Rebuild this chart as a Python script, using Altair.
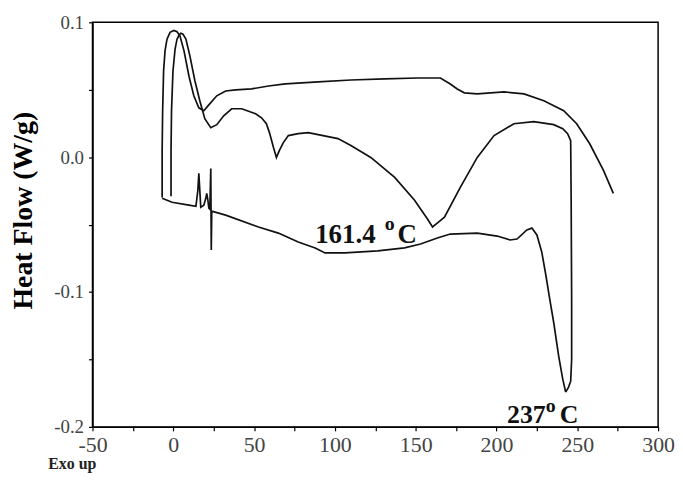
import altair as alt
import pandas as pd

# ---- data (temperature in °C, heat flow in W/g) ----
# upper trace
c1_t = [-6.9, -6.9, -6.6, -6.0, -5.1, -3.9, -2.0, 0.4, 2.3, 4.1,
        6.6, 9.7, 12.7, 15.8, 18.9, 22.0, 26.9, 32.4, 38.6, 48.4,
        58.9, 69.3, 89.6, 109.9, 130.8, 151.1, 165.3, 171.4, 175.7, 180.1,
        188.1, 204.7, 217.0, 229.3, 241.6, 249.6, 257.6, 266.2, 272.3]
c1_v = [-0.030, 0.005, 0.034, 0.064, 0.079, 0.0875, 0.0926, 0.094, 0.093, 0.090,
        0.079, 0.060, 0.0455, 0.0366, 0.0344, 0.0388, 0.0455, 0.0491, 0.0499, 0.0506,
        0.0528, 0.0543, 0.0558, 0.0572, 0.0580, 0.0587, 0.0587, 0.0543, 0.0506, 0.0477,
        0.0469, 0.0484, 0.0469, 0.0418, 0.0344, 0.0248, 0.0101, -0.0098, -0.0268]

# middle trace
c2_t = [-1.4, -1.4, -1.1, -0.2, 1.1, 2.3, 3.5, 4.7, 6.0, 7.8,
        10.3, 13.4, 16.4, 19.5, 23.2, 26.9, 31.2, 36.1, 42.3, 50.9,
        54.6, 57.6, 59.5, 62.0, 63.8, 65.6, 68.1, 71.2, 77.3, 83.5,
        89.6, 101.9, 109.9, 122.2, 137.0, 149.3, 157.3, 160.4, 164.1, 167.8,
        177.6, 188.1, 198.5, 210.8, 223.1, 235.4, 241.0, 244.0, 245.9, 246.2,
        246.5, 246.5, 245.9, 244.6, 242.8]
c2_v = [-0.029, 0.0049, 0.0344, 0.0639, 0.0801, 0.0875, 0.0904, 0.0919, 0.0912, 0.0875,
        0.0749, 0.0565, 0.0418, 0.0285, 0.0219, 0.0241, 0.0307, 0.0359, 0.0359, 0.0322,
        0.0292, 0.0248, 0.0182, 0.0071, -0.0002, 0.0049, 0.0108, 0.0160, 0.0174, 0.0182,
        0.0167, 0.0138, 0.0086, -0.0002, -0.0150, -0.0319, -0.0459, -0.0518, -0.0482, -0.0445,
        -0.0224, -0.0002, 0.0160, 0.0248, 0.0263, 0.0241, 0.0211, 0.0174, 0.0123, -0.0319,
        -0.1056, -0.1499, -0.1661, -0.1705, -0.1742]

# lower trace
c3_t = [-6.9, -0.8, 9.7, 14.0, 15.2, 15.8, 16.4, 17.0, 18.9, 20.1,
        20.7, 21.4, 22.0, 22.6, 23.2, 23.5, 23.8, 32.4, 52.7, 65.0,
        77.3, 87.8, 93.9, 106.2, 126.5, 143.1, 153.0, 163.4, 171.4, 188.1,
        200.4, 208.4, 212.7, 218.8, 221.9, 225.0, 228.0, 230.5, 233.0, 235.4,
        238.5, 241.0, 242.8]
c3_v = [-0.0305, -0.0334, -0.0356, -0.0364, -0.0246, -0.0120, -0.0246, -0.0371, -0.0356, -0.0305,
        -0.0268, -0.0319, -0.0378, -0.0386, -0.0084, -0.0688, -0.0400, -0.0430, -0.0518, -0.0563,
        -0.0629, -0.0673, -0.0710, -0.0710, -0.0695, -0.0673, -0.0644, -0.0599, -0.0570, -0.0563,
        -0.0585, -0.0614, -0.0607, -0.0540, -0.0526, -0.0577, -0.0703, -0.0872, -0.1056, -0.1226,
        -0.1477, -0.1646, -0.1742]

# annotation pieces: text, temperature, heat flow, font size
note_text = ["161.4", "o", "C", "237", "o", "C"]
note_t = [87.8, 130.8, 138.8, 206.5, 230.5, 239.1]
note_v = [-0.0636, -0.054, -0.0636, -0.197, -0.1889, -0.197]
note_size = [27, 20, 27, 26, 20, 26]

x_ticks = [-50, -25, 0, 25, 50, 75, 100, 125, 150, 175, 200, 225, 250, 275, 300]
y_ticks = [-0.2, -0.15, -0.1, -0.05, 0.0, 0.05, 0.1]

rows = []
for name, ts, vs in (("c1", c1_t, c1_v), ("c2", c2_t, c2_v), ("c3", c3_t, c3_v)):
    for i, (t, v) in enumerate(zip(ts, vs)):
        rows.append({"curve": name, "i": i, "T": t, "V": v})
df = pd.DataFrame(rows)
notes_df = pd.DataFrame({"text": note_text, "T": note_t, "V": note_v, "size": note_size})

serif = "Liberation Serif"

x_enc = alt.X(
    "T:Q",
    scale=alt.Scale(domain=[-50, 300], nice=False, zero=False),
    axis=alt.Axis(
        values=x_ticks,
        labelExpr="datum.value % 50 == 0 ? toString(datum.value) : ''",
        labelOverlap=False, labelFlush=False,
        labelFont=serif, labelFontSize=22, labelColor="#444", labelPadding=4,
        tickSize=4, tickColor="black", tickWidth=1.2,
        domainColor="black", domainWidth=1.5,
        title="Exo up", titleFont=serif, titleFontSize=16, titleFontWeight="bold",
        titleColor="#222", titleX=-45, titleY=37, titleAlign="left",
        titleBaseline="middle", titleAngle=0,
    ),
)
y_enc = alt.Y(
    "V:Q",
    scale=alt.Scale(domain=[-0.2, 0.1], nice=False, zero=False),
    axis=alt.Axis(
        values=y_ticks,
        labelExpr="datum.value == 0 ? '0.0' : (abs(datum.value*10 - round(datum.value*10)) < 0.001 ? toString(round(datum.value*10)/10) : '')",
        labelOverlap=False, labelFlush=False,
        labelFont=serif, labelFontSize=19, labelColor="#444", labelPadding=5,
        tickSize=4, tickColor="black", tickWidth=1.2,
        domainColor="black", domainWidth=1.5,
        title="Heat Flow (W/g)", titleFont=serif, titleFontSize=28, titleFontWeight="bold",
        titleColor="black", titleX=-55, titleY=189, titleAngle=270,
        titleAlign="center", titleBaseline="bottom",
    ),
)

lines = alt.Chart(df).mark_line(color="#111", strokeWidth=1.7).encode(
    x=x_enc, y=y_enc, detail="curve:N", order="i:Q"
)

notes = alt.Chart(notes_df).mark_text(
    align="left", baseline="alphabetic", font=serif, fontWeight="bold", color="#111"
).encode(
    x="T:Q", y="V:Q", text="text:N", size=alt.Size("size:Q", scale=None)
)

chart = alt.layer(lines, notes).properties(
    width=569, height=407,
    autosize=alt.AutoSizeParams(type="none"),
    padding={"left": 85, "top": 13, "right": 17, "bottom": 45},
    background="white",
).configure_view(stroke="black", strokeWidth=1.5).configure_axis(grid=False)

chart.save("out.html", embed_options={"renderer": "svg", "actions": False})
